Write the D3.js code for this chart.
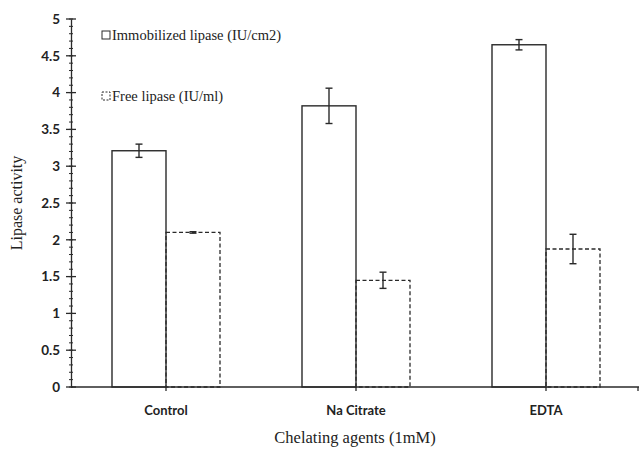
<!DOCTYPE html>
<html><head><meta charset="utf-8">
<script src="https://cdn.jsdelivr.net/npm/d3@7"></script>
<style>body{margin:0;background:#fff}svg{display:block}</style>
</head><body><svg id="c" width="639" height="452"></svg>
<script>
const categories = ["Control", "Na Citrate", "EDTA"];
const seriesNames = ["Immobilized lipase (IU/cm2)", "Free lipase (IU/ml)"];
const immobilized = [3.21, 3.82, 4.65];
const immobilizedErr = [0.09, 0.24, 0.07];
const free = [2.10, 1.45, 1.875];
const freeErr = [0.01, 0.11, 0.20];
const yTicks = [0, 0.5, 1, 1.5, 2, 2.5, 3, 3.5, 4, 4.5, 5];

const svg = d3.select("#c");
const m = {l: 71, r: 0, t: 19, b: 65};
const W = 639, H = 452;
const x0 = d3.scaleBand().domain(categories).range([m.l, W - m.r + 2]).padding(0);
const y = d3.scaleLinear().domain([0, 5]).range([H - m.b, m.t]);
const ink = "#2a2a2a";
const bw = 54;
const serif = "'Liberation Serif', 'Times New Roman', serif";
const sans = "Lato, 'Open Sans', sans-serif";

// minor ticks
const minor = d3.range(0, 5.0001, 0.1);
svg.append("g").selectAll("line").data(minor).join("line")
  .attr("x1", m.l - 2).attr("x2", m.l + 2)
  .attr("y1", d => y(d)).attr("y2", d => y(d))
  .attr("stroke", ink).attr("stroke-width", 1);

const ya = svg.append("g").attr("transform", `translate(${m.l},0)`)
  .call(d3.axisLeft(y).tickValues(yTicks).tickSize(0).tickPadding(11)
    .tickFormat(d => String(d)));
ya.select(".domain").attr("stroke", ink).attr("stroke-width", 1.3);
ya.selectAll("text").attr("font-family", sans)
  .attr("font-size", 13.5).attr("font-weight", 700).attr("fill", "#222");
svg.append("g").selectAll("line").data(yTicks).join("line")
  .attr("x1", m.l - 5).attr("x2", m.l + 5)
  .attr("y1", d => y(d)).attr("y2", d => y(d))
  .attr("stroke", ink).attr("stroke-width", 1.3);

// bars
const groups = svg.append("g");
categories.forEach((c, i) => {
  const cx = x0(c) + x0.bandwidth() / 2;
  groups.append("rect")
    .attr("x", cx - bw).attr("y", y(immobilized[i]))
    .attr("width", bw).attr("height", y(0) - y(immobilized[i]))
    .attr("fill", "none").attr("stroke", ink).attr("stroke-width", 1.4);
  groups.append("rect")
    .attr("x", cx).attr("y", y(free[i]))
    .attr("width", bw).attr("height", y(0) - y(free[i]))
    .attr("fill", "none").attr("stroke", ink).attr("stroke-width", 1.3)
    .attr("stroke-dasharray", "4,2.5");
  [[cx - bw / 2, immobilized[i], immobilizedErr[i]], [cx + bw / 2, free[i], freeErr[i]]].forEach(([ex, v, e]) => {
    const g = groups.append("g").attr("stroke", ink).attr("stroke-width", 1.4);
    g.append("line").attr("x1", ex).attr("x2", ex).attr("y1", y(v - e)).attr("y2", y(v + e));
    g.append("line").attr("x1", ex - 3.5).attr("x2", ex + 3.5).attr("y1", y(v - e)).attr("y2", y(v - e));
    g.append("line").attr("x1", ex - 3.5).attr("x2", ex + 3.5).attr("y1", y(v + e)).attr("y2", y(v + e));
  });
});

// x axis
svg.append("line").attr("x1", m.l).attr("x2", W).attr("y1", y(0)).attr("y2", y(0))
  .attr("stroke", ink).attr("stroke-width", 1.4);
const xt = categories.map(c => x0(c) + x0.bandwidth() / 2).concat([W - 1]);
svg.append("g").selectAll("line").data(xt).join("line")
  .attr("x1", d => d).attr("x2", d => d).attr("y1", y(0)).attr("y2", y(0) + 4)
  .attr("stroke", ink).attr("stroke-width", 1.3);
svg.append("g").selectAll("text").data(categories).join("text")
  .attr("x", d => x0(d) + x0.bandwidth() / 2).attr("y", 415)
  .attr("text-anchor", "middle")
  .attr("font-family", sans).attr("font-size", 13)
  .attr("font-weight", 700).attr("fill", "#222").text(d => d);

// titles
svg.append("text").attr("x", 355).attr("y", 443).attr("text-anchor", "middle")
  .attr("font-family", serif).attr("font-size", 16.5)
  .attr("fill", "#222").text("Chelating agents (1mM)");
svg.append("text").attr("transform", "translate(22,203) rotate(-90)").attr("text-anchor", "middle")
  .attr("font-family", serif).attr("font-size", 16)
  .attr("fill", "#222").text("Lipase activity");

// legend
const leg = [[seriesNames[0], null, 35], [seriesNames[1], "2,1.5", 96]];
leg.forEach(([name, dash, ly]) => {
  svg.append("rect").attr("x", 102).attr("y", ly - 4).attr("width", 8).attr("height", 8)
    .attr("fill", "none").attr("stroke", ink).attr("stroke-width", 1)
    .attr("stroke-dasharray", dash);
  svg.append("text").attr("x", 112).attr("y", ly + 5)
    .attr("font-family", serif).attr("font-size", 14.5)
    .attr("fill", "#222").text(name);
});
</script></body></html>
